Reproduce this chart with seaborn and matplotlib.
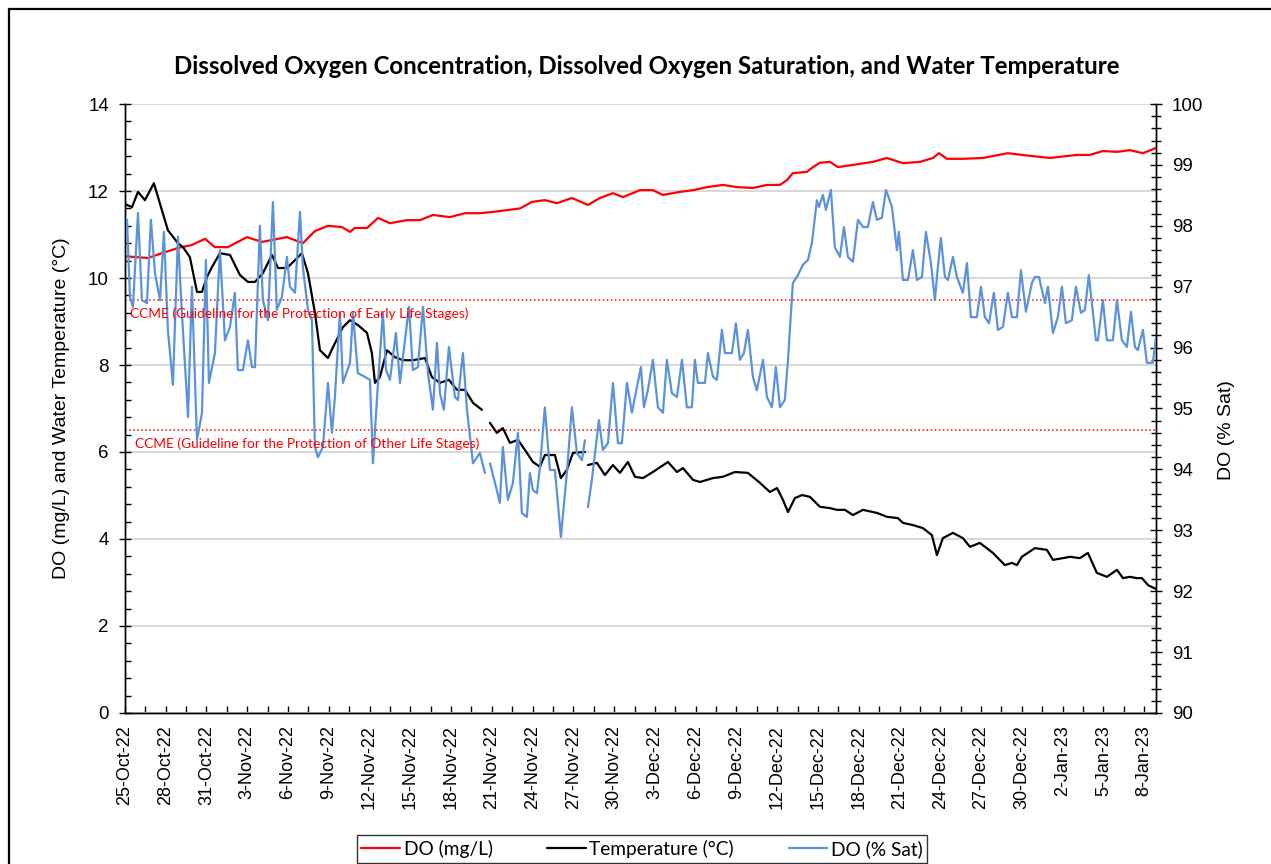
import numpy as np
import pandas as pd
import seaborn as sns
import matplotlib.pyplot as plt
import matplotlib.dates as mdates
from matplotlib.ticker import MultipleLocator, FixedLocator, FuncFormatter
from matplotlib.lines import Line2D
from matplotlib.patches import Rectangle

sns.set_style('ticks')
plt.rcParams['font.family'] = ['Liberation Sans', 'DejaVu Sans']
for k in ['text.color', 'axes.labelcolor', 'xtick.color', 'ytick.color', 'axes.edgecolor']:
    plt.rcParams[k] = 'black'

nan = np.nan
start = pd.Timestamp('2022-10-25')
end_day = 75.87  # last reading, days after 25-Oct-22

# DO (mg/L) - days after start, value
do_day = [0.0, 1.69, 2.72, 3.90, 4.93, 5.89, 6.62, 7.58, 8.98, 10.08,
          11.92, 13.10, 13.98, 14.94, 15.97, 16.56, 16.92, 17.81, 18.62, 19.50,
          20.75, 21.71, 22.66, 23.91, 25.02, 26.12, 27.08, 28.11, 29.07, 29.95,
          30.90, 31.79, 32.89, 34.07, 34.95, 35.91, 36.65, 37.90, 38.85, 39.59,
          40.84, 41.80, 42.83, 44.00, 45.03, 46.21, 47.24, 48.20, 48.71, 49.15,
          50.18, 50.63, 51.14, 51.88, 52.47, 53.57, 55.04, 56.07, 57.25, 58.50,
          59.46, 59.90, 60.49, 61.66, 63.13, 64.97, 66.00, 68.06, 70.05, 71.01,
          71.96, 73.00, 73.95, 74.91, 75.87]
do_mgl = [10.5, 10.46, 10.57, 10.69, 10.76, 10.9, 10.71, 10.71, 10.94, 10.83,
          10.94, 10.8, 11.08, 11.2, 11.17, 11.06, 11.15, 11.15, 11.38, 11.26,
          11.33, 11.33, 11.45, 11.4, 11.49, 11.49, 11.52, 11.56, 11.6, 11.75,
          11.79, 11.72, 11.84, 11.68, 11.84, 11.95, 11.86, 12.02, 12.02, 11.91,
          11.98, 12.02, 12.09, 12.14, 12.09, 12.07, 12.14, 12.14, 12.25, 12.41,
          12.44, 12.55, 12.65, 12.67, 12.55, 12.6, 12.67, 12.76, 12.64, 12.67,
          12.76, 12.87, 12.74, 12.74, 12.76, 12.87, 12.83, 12.76, 12.83, 12.83,
          12.92, 12.9, 12.94, 12.87, 12.99]

# Water temperature (C)
temp_day = [0.0, 0.52, 0.96, 1.47, 2.13, 2.72, 3.16, 3.90, 4.27, 4.78,
            5.30, 5.67, 6.03, 6.40, 6.99, 7.73, 8.46, 9.05, 9.57, 10.15,
            10.82, 11.26, 11.92, 12.51, 13.02, 13.47, 13.98, 14.35, 14.94, 15.31,
            16.04, 16.56, 17.14, 17.81, 18.17, 18.40, 18.76, 19.28, 19.87, 20.46,
            21.19, 22.08, 22.59, 23.18, 23.84, 24.43, 25.02, 25.61, 26.27, 26.60,
            26.86, 27.37, 27.81, 28.33, 28.92, 29.58, 30.02, 30.54, 30.90, 31.64,
            32.08, 32.52, 32.97, 33.85, 33.95, 34.07, 34.73, 35.32, 35.91, 36.42,
            37.01, 37.53, 38.12, 38.85, 39.96, 40.62, 41.06, 41.80, 42.31, 43.27,
            44.00, 44.89, 45.84, 46.73, 47.46, 47.98, 48.42, 48.79, 49.30, 49.82,
            50.40, 51.14, 51.88, 52.39, 52.98, 53.57, 54.31, 55.33, 56.07, 56.88,
            57.25, 57.98, 58.72, 59.38, 59.75, 60.19, 60.93, 61.66, 62.18, 62.91,
            63.87, 64.75, 65.27, 65.64, 66.00, 66.96, 67.84, 68.29, 69.02, 69.54,
            70.27, 70.86, 71.52, 72.26, 73.00, 73.44, 73.95, 74.47, 74.84, 75.28,
            75.87]
temp_c = [11.7, 11.63, 11.98, 11.79, 12.18, 11.56, 11.1, 10.8, 10.71, 10.48,
          9.68, 9.68, 10.02, 10.25, 10.57, 10.53, 10.07, 9.91, 9.91, 10.11,
          10.53, 10.23, 10.23, 10.41, 10.57, 10.11, 9.2, 8.34, 8.16, 8.41,
          8.87, 9.03, 8.92, 8.74, 8.28, 7.59, 7.72, 8.34, 8.18, 8.11,
          8.11, 8.16, 7.72, 7.59, 7.66, 7.43, 7.43, 7.13, 6.97, nan,
          6.67, 6.44, 6.55, 6.21, 6.28, 5.98, 5.77, 5.66, 5.93, 5.93,
          5.4, 5.59, 5.98, 6.0, nan, 5.7, 5.75, 5.47, 5.7, 5.52,
          5.77, 5.43, 5.4, 5.54, 5.77, 5.54, 5.63, 5.36, 5.31, 5.4,
          5.43, 5.54, 5.52, 5.29, 5.08, 5.17, 4.9, 4.62, 4.94, 5.01,
          4.97, 4.74, 4.71, 4.67, 4.67, 4.55, 4.67, 4.6, 4.51, 4.48,
          4.37, 4.32, 4.25, 4.09, 3.63, 4.02, 4.14, 4.02, 3.82, 3.91,
          3.68, 3.4, 3.45, 3.4, 3.59, 3.79, 3.75, 3.52, 3.56, 3.59,
          3.56, 3.68, 3.22, 3.13, 3.29, 3.1, 3.13, 3.1, 3.1, 2.94,
          2.85]

# DO (% Sat)
sat_day = [0.15, 0.37, 0.59, 0.96, 1.25, 1.62, 1.91, 2.21, 2.58, 2.87,
           3.16, 3.53, 3.90, 4.19, 4.56, 4.64, 4.93, 5.30, 5.67, 5.96,
           6.18, 6.62, 6.99, 7.36, 7.73, 8.09, 8.31, 8.68, 9.05, 9.35,
           9.57, 9.93, 10.15, 10.52, 10.89, 11.18, 11.55, 11.92, 12.14, 12.51,
           12.88, 13.10, 13.47, 13.76, 13.98, 14.20, 14.57, 14.94, 15.23, 15.45,
           15.82, 16.04, 16.56, 16.78, 17.14, 17.66, 18.03, 18.25, 18.62, 18.98,
           19.21, 19.50, 19.94, 20.24, 20.46, 20.90, 21.19, 21.56, 21.93, 22.30,
           22.66, 22.96, 23.18, 23.47, 23.84, 24.28, 24.50, 24.87, 25.17, 25.61,
           26.12, 26.49, 26.70, 26.86, 27.23, 27.59, 27.81, 28.18, 28.55, 28.92,
           29.21, 29.58, 29.80, 30.02, 30.32, 30.54, 30.90, 31.27, 31.64, 32.08,
           32.52, 32.89, 33.26, 33.63, 33.85, 33.95, 34.07, 34.36, 34.88, 35.17,
           35.54, 35.91, 36.28, 36.57, 36.94, 37.31, 37.53, 37.97, 38.19, 38.48,
           38.85, 39.22, 39.59, 39.88, 40.25, 40.62, 40.99, 41.35, 41.72, 41.94,
           42.16, 42.68, 42.90, 43.27, 43.56, 43.93, 44.15, 44.67, 44.96, 45.25,
           45.55, 45.84, 46.21, 46.50, 46.95, 47.24, 47.61, 47.90, 48.20, 48.56,
           48.79, 49.15, 49.52, 49.89, 50.26, 50.55, 50.92, 51.07, 51.36, 51.58,
           51.95, 52.24, 52.61, 52.91, 53.20, 53.57, 53.94, 54.31, 54.67, 55.04,
           55.33, 55.70, 56.00, 56.44, 56.81, 56.95, 57.25, 57.62, 57.98, 58.28,
           58.65, 58.94, 59.31, 59.60, 59.75, 60.04, 60.34, 60.56, 60.93, 61.22,
           61.66, 61.96, 62.25, 62.69, 62.99, 63.28, 63.58, 63.94, 64.24, 64.61,
           64.97, 65.27, 65.64, 65.93, 66.30, 66.74, 66.96, 67.26, 67.70, 67.92,
           68.29, 68.65, 68.95, 69.24, 69.68, 69.98, 70.35, 70.64, 70.93, 71.45,
           71.60, 71.96, 72.26, 72.70, 73.00, 73.36, 73.73, 74.03, 74.32, 74.54,
           74.91, 75.20, 75.64, 75.87]
sat_pct = [98.1, 96.83, 96.67, 98.21, 96.78, 96.73, 98.1, 97.22, 96.78, 97.9,
           96.29, 95.39, 97.82, 96.57, 95.19, 94.86, 97.0, 94.48, 94.93, 97.44,
           95.42, 95.91, 97.6, 96.12, 96.34, 96.9, 95.63, 95.63, 96.12, 95.68,
           95.68, 98.0, 96.78, 96.45, 98.39, 96.62, 96.83, 97.49, 97.0, 96.9,
           98.23, 97.3, 96.62, 96.45, 94.37, 94.2, 94.37, 95.42, 94.6, 95.19,
           96.57, 95.42, 95.75, 96.57, 95.58, 95.52, 95.47, 94.1, 95.42, 96.57,
           95.63, 95.47, 96.24, 95.42, 95.85, 96.67, 95.63, 95.68, 96.67, 95.58,
           94.98, 96.08, 95.25, 94.98, 96.01, 95.19, 95.14, 95.91, 94.98, 94.1,
           94.27, 93.94, nan, 94.1, 93.78, 93.45, 94.37, 93.5, 93.78, 94.6,
           93.28, 93.22, 93.94, 93.66, 93.61, 94.04, 95.02, 93.99, 93.99, 92.89,
           93.94, 95.02, 94.27, 94.15, 94.48, nan, 93.38, 93.83, 94.81, 94.32,
           94.43, 95.42, 94.43, 94.43, 95.42, 94.93, 95.19, 95.68, 95.02, 95.3,
           95.8, 95.02, 94.93, 95.8, 95.25, 95.19, 95.8, 95.02, 95.02, 95.8,
           95.42, 95.42, 95.91, 95.52, 95.47, 96.29, 95.91, 95.91, 96.4, 95.8,
           95.91, 96.29, 95.52, 95.3, 95.8, 95.19, 95.02, 95.68, 95.02, 95.14,
           95.8, 97.06, 97.19, 97.36, 97.44, 97.72, 98.42, 98.31, 98.51, 98.26,
           98.59, 97.65, 97.49, 97.98, 97.49, 97.41, 98.1, 97.98, 97.98, 98.39,
           98.1, 98.13, 98.59, 98.31, 97.6, 97.9, 97.11, 97.11, 97.6, 97.11,
           97.16, 97.9, 97.39, 96.78, 97.16, 97.8, 97.16, 97.11, 97.49, 97.16,
           96.9, 97.39, 96.5, 96.5, 97.0, 96.5, 96.4, 96.9, 96.29, 96.34,
           96.9, 96.5, 96.5, 97.27, 96.59, 97.06, 97.16, 97.16, 96.73, 97.0,
           96.24, 96.5, 97.0, 96.4, 96.45, 97.0, 96.57, 96.62, 97.19, 96.12,
           96.12, 96.78, 96.12, 96.12, 96.78, 96.12, 96.01, 96.59, 96.01, 95.96,
           96.29, 95.75, 95.75, 96.17]

ccme_early = 9.5
ccme_other = 6.5

RED = '#ff0000'
BLUE = '#5b92d9'


def frame(days, vals):
    df = pd.DataFrame({'day': days, 'val': vals})
    df['seg'] = df['val'].isna().cumsum()
    df['time'] = start + pd.to_timedelta(df['day'], unit='D')
    return df.dropna()


fig = plt.figure(figsize=(12.71, 8.64), dpi=100)
ax = fig.add_axes([0.0983, 0.1748, 0.8112, 0.7048])
ax2 = ax.twinx()

# reference lines
ax.axhline(ccme_early, color=RED, ls=':', lw=1.1, zorder=1)
ax.axhline(ccme_other, color=RED, ls=':', lw=1.1, zorder=1)

sns.lineplot(data=frame(do_day, do_mgl), x='time', y='val', units='seg', estimator=None,
             color=RED, lw=1.6, ax=ax, legend=False, zorder=3)
sns.lineplot(data=frame(temp_day, temp_c), x='time', y='val', units='seg', estimator=None,
             color='black', lw=1.6, ax=ax, legend=False, zorder=3)
sns.lineplot(data=frame(sat_day, sat_pct), x='time', y='val', units='seg', estimator=None,
             color=BLUE, lw=1.6, ax=ax2, legend=False, zorder=3)

# axes limits and ticks
x0 = mdates.date2num(start)
ax.set_xlim(x0, x0 + end_day)
ax.set_ylim(0, 14)
ax2.set_ylim(90, 100)

major_dates = mdates.date2num(pd.date_range(start, periods=26, freq='3D'))
minor_dates = mdates.date2num(pd.date_range(start, periods=52, freq='36h'))
ax.xaxis.set_major_locator(FixedLocator(major_dates))
ax.xaxis.set_minor_locator(FixedLocator(minor_dates))


def fmt_date(v, pos):
    d = mdates.num2date(v)
    return f"{d.day}-{d:%b-%y}"


ax.xaxis.set_major_formatter(FuncFormatter(fmt_date))
ax.yaxis.set_major_locator(MultipleLocator(2))
ax.yaxis.set_minor_locator(MultipleLocator(0.4))
ax2.yaxis.set_major_locator(MultipleLocator(1))
ax2.yaxis.set_minor_locator(MultipleLocator(0.2))

ax.tick_params(axis='x', which='both', direction='in', length=5, width=1, bottom=True)
ax.tick_params(axis='x', which='major', pad=9, labelsize=13, labelrotation=90)
ax.tick_params(axis='y', which='major', direction='inout', length=9, width=1, pad=7, labelsize=13.5)
ax.tick_params(axis='y', which='minor', direction='in', length=4, width=1, left=True)
ax2.tick_params(axis='y', which='major', direction='inout', length=9, width=1, pad=7, labelsize=13.5)
ax2.tick_params(axis='y', which='minor', direction='inout', length=7, width=1, right=True)

ax.yaxis.grid(True, color='#d9d9d9', lw=1.5)
ax.xaxis.grid(False)
ax2.grid(False)
ax.set_axisbelow(True)

for a in (ax, ax2):
    a.spines['top'].set_visible(False)
    for s in ('left', 'right', 'bottom'):
        a.spines[s].set_color('black')
        a.spines[s].set_linewidth(1)
ax.set_xlabel('')
ax.set_ylabel('DO (mg/L) and Water Temperature (°C)', fontsize=14)
ax.yaxis.set_label_coords(-0.053, 0.5)
ax2.set_ylabel('DO (% Sat)', fontsize=14)
ax2.yaxis.set_label_coords(1.060, 0.465)

# guideline labels
ax2.text(x0 + 0.37, 9.17, 'CCME (Guideline for the Protection of Early Life Stages)',
         transform=ax.transData, color=RED, fontsize=9.9, family=['Lato', 'DejaVu Sans'],
         va='center', ha='left', zorder=5)
ax2.text(x0 + 0.74, 6.2, 'CCME (Guideline for the Protection of Other Life Stages)',
         transform=ax.transData, color=RED, fontsize=9.9, family=['Lato', 'DejaVu Sans'],
         va='center', ha='left', zorder=5)

fig.text(647 / 1271, 1 - 66 / 864,
         'Dissolved Oxygen Concentration, Dissolved Oxygen Saturation, and Water Temperature',
         ha='center', va='center', fontsize=17.3, fontweight='bold', family=['Lato', 'DejaVu Sans'])

handles = [Line2D([], [], color=RED, lw=1.6), Line2D([], [], color='black', lw=1.6),
           Line2D([], [], color=BLUE, lw=1.6)]
labels = ['DO (mg/L)', 'Temperature (°C)', 'DO (% Sat)']
leg = fig.legend(handles, labels, loc='upper center', bbox_to_anchor=(642 / 1271, 1 - 835 / 864),
                 ncol=3, frameon=True, fancybox=False, edgecolor='black', borderaxespad=0,
                 prop={'family': ['Lato', 'DejaVu Sans'], 'size': 13.8},
                 handlelength=2.0, handletextpad=0.2, columnspacing=2.85, borderpad=0.25)
leg.get_frame().set_linewidth(1.0)

# outer chart border
fig.add_artist(Rectangle((9 / 1271, -0.2), 1.5, 1.2 - 9 / 864, transform=fig.transFigure,
                         fill=False, ec='black', lw=1.6))

fig.savefig('out.png', dpi=100)
